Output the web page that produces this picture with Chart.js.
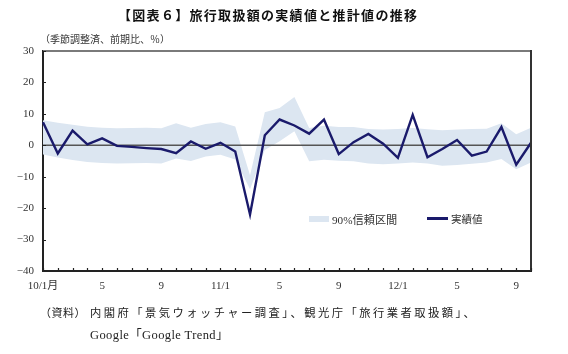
<!DOCTYPE html>
<html>
<head>
<meta charset="utf-8">
<script src="https://cdn.jsdelivr.net/npm/chart.js"></script>
<style>
  body { margin: 0; background: #fff; }
  #wrap { position: relative; width: 568px; height: 354px; overflow: hidden; }
  #wrap canvas { position: absolute; left: 0; top: 0; }
  .t { position: absolute; white-space: nowrap; color: #222; font-family: 'Liberation Serif', 'Noto Sans CJK JP', serif; }
  #title { left: 118px; top: 5px; font-family: 'Noto Sans CJK JP', sans-serif; font-size: 13px; font-weight: 700; letter-spacing: 1.3px; color: #111; }
  #unit { left: 40px; top: 31px; font-size: 10px; color: #333; }
  #src0 { left: 40px; top: 304px; font-size: 11px; letter-spacing: 0.5px; }
  #src1 { left: 90px; top: 304px; font-size: 11.3px; letter-spacing: 2.45px; }
  #src2 { left: 90px; top: 324px; font-size: 12.5px; letter-spacing: 0.4px; }
  .leg { top: 211px; font-size: 10.5px; color: #333; }
  .sw { position: absolute; }
</style>
</head>
<body>
<div id="wrap">
  <canvas id="c" width="568" height="354"></canvas>
  <div class="t" id="title">【図表６】旅行取扱額の実績値と推計値の推移</div>
  <div class="t" id="unit">（季節調整済、前期比、％）</div>
  <div class="sw" style="left:309px;top:216px;width:20px;height:6px;background:#dce6f1"></div>
  <div class="t leg" style="left:332px;font-size:11.2px">90%信頼区間</div>
  <div class="sw" style="left:427px;top:217px;width:21px;height:2.5px;background:#1a1a6b"></div>
  <div class="t leg" style="left:451px">実績値</div>
  <div class="t" id="src0">（資料）</div>
  <div class="t" id="src1">内閣府「景気ウォッチャー調査」、観光庁「旅行業者取扱額」、</div>
  <div class="t" id="src2">Google「Google Trend」</div>
</div>
<script>
// 2010/1 - 2012/10, monthly
const monthLabels = [
  '10/1月', '', '', '', '5', '', '', '', '9', '', '', '',
  '11/1', '', '', '', '5', '', '', '', '9', '', '', '',
  '12/1', '', '', '', '5', '', '', '', '9', ''
];

const actual = [
  7.3, -2.6, 4.7, 0.3, 2.2, -0.2, -0.5, -0.9, -1.2, -2.5, 1.2, -1.1,
  0.8, -2.0, -22.0, 3.2, 8.2, 6.3, 3.7, 8.2, -2.8, 1.0, 3.6, 0.5,
  -4.0, 9.7, -3.8, -1.2, 1.7, -3.3, -2.0, 5.8, -6.2, 0.8
];

const bandUpper = [
  8.0, 7.2, 6.5, 5.9, 5.6, 5.4, 5.5, 5.6, 5.4, 7.0, 5.6, 6.8,
  7.3, 6.0, -9.5, 10.5, 11.9, 15.4, 5.5, 6.2, 5.8, 5.8, 5.2, 5.0,
  5.2, 5.5, 5.1, 4.8, 5.0, 5.2, 5.3, 7.0, 3.5, 5.6
];

const bandLower = [
  -2.9, -3.9, -4.7, -5.3, -5.6, -5.8, -5.7, -5.6, -5.8, -4.2, -5.0, -3.6,
  -3.0, -4.5, -14.0, -1.5, 1.3, 4.5, -5.1, -4.6, -4.9, -5.1, -5.8, -6.0,
  -5.8, -5.5, -5.8, -6.5, -6.3, -5.9, -5.5, -4.4, -7.6, -5.5
];

const yTicks = [-40, -30, -20, -10, 0, 10, 20, 30];

const tickFont = { family: "'Liberation Serif', 'Noto Sans CJK JP', serif", size: 11 };

// zero line over the band, under the actual line
const zeroLine = {
  id: 'zeroLine',
  afterDatasetDraw(chart, args) {
    if (args.index !== 1) return;
    const { ctx, chartArea: a, scales: { y } } = chart;
    const py = y.getPixelForValue(0);
    ctx.save();
    ctx.strokeStyle = '#555';
    ctx.lineWidth = 1.5;
    ctx.beginPath();
    ctx.moveTo(a.left, py);
    ctx.lineTo(a.right, py);
    ctx.stroke();
    ctx.restore();
  }
};

// frame (top/right) and inward tick marks
const framePlugin = {
  id: 'frame',
  afterDraw(chart) {
    const { ctx, chartArea: a, scales: { x, y } } = chart;
    ctx.save();
    ctx.lineWidth = 2;
    ctx.strokeStyle = '#7a7a7a';
    ctx.beginPath();
    ctx.moveTo(a.left, a.top);
    ctx.lineTo(a.right, a.top);
    ctx.stroke();
    ctx.strokeStyle = '#333';
    ctx.beginPath();
    ctx.moveTo(a.right, a.top - 1);
    ctx.lineTo(a.right, a.bottom);
    ctx.stroke();

    ctx.lineWidth = 1.2;
    ctx.strokeStyle = '#222';
    ctx.beginPath();
    yTicks.forEach(v => {
      const py = Math.round(y.getPixelForValue(v)) + 0.5;
      ctx.moveTo(a.left, py);
      ctx.lineTo(a.left + 3, py);
    });
    monthLabels.forEach((_, i) => {
      const px = Math.round(x.getPixelForValue(i)) + 0.5;
      ctx.moveTo(px, a.bottom);
      ctx.lineTo(px, a.bottom - 3);
    });
    ctx.stroke();
    ctx.restore();
  }
};

new Chart(document.getElementById('c'), {
  type: 'line',
  data: {
    labels: monthLabels,
    datasets: [
      {
        label: '実績値',
        data: actual,
        borderColor: '#1a1a6b',
        borderWidth: 2.4,
        pointRadius: 0,
        fill: false,
        order: 0
      },
      {
        label: 'upper',
        data: bandUpper,
        borderWidth: 0,
        pointRadius: 0,
        backgroundColor: '#dce6f1',
        fill: '+1',
        order: 1
      },
      {
        label: 'lower',
        data: bandLower,
        borderWidth: 0,
        pointRadius: 0,
        fill: false,
        order: 2
      }
    ]
  },
  options: {
    responsive: false,
    animation: false,
    layout: { padding: { top: 51, right: 37, left: 0, bottom: 0 } },
    plugins: { legend: { display: false }, tooltip: { enabled: false } },
    scales: {
      x: {
        offset: false,
        grid: { display: false, drawTicks: false },
        border: { color: '#222', width: 2 },
        ticks: {
          autoSkip: false,
          maxRotation: 0,
          padding: 9,
          color: '#333',
          font: tickFont
        },
        afterFit(s) { s.height = 83; }
      },
      y: {
        min: -40,
        max: 30,
        grid: { display: false, drawTicks: false },
        border: { color: '#222', width: 2 },
        ticks: {
          stepSize: 10,
          padding: 9,
          color: '#333',
          font: tickFont,
          callback: v => String(v).replace('-', '−')
        },
        afterFit(s) { s.width = 43; }
      }
    }
  },
  plugins: [zeroLine, framePlugin]
});
</script>
</body>
</html>
